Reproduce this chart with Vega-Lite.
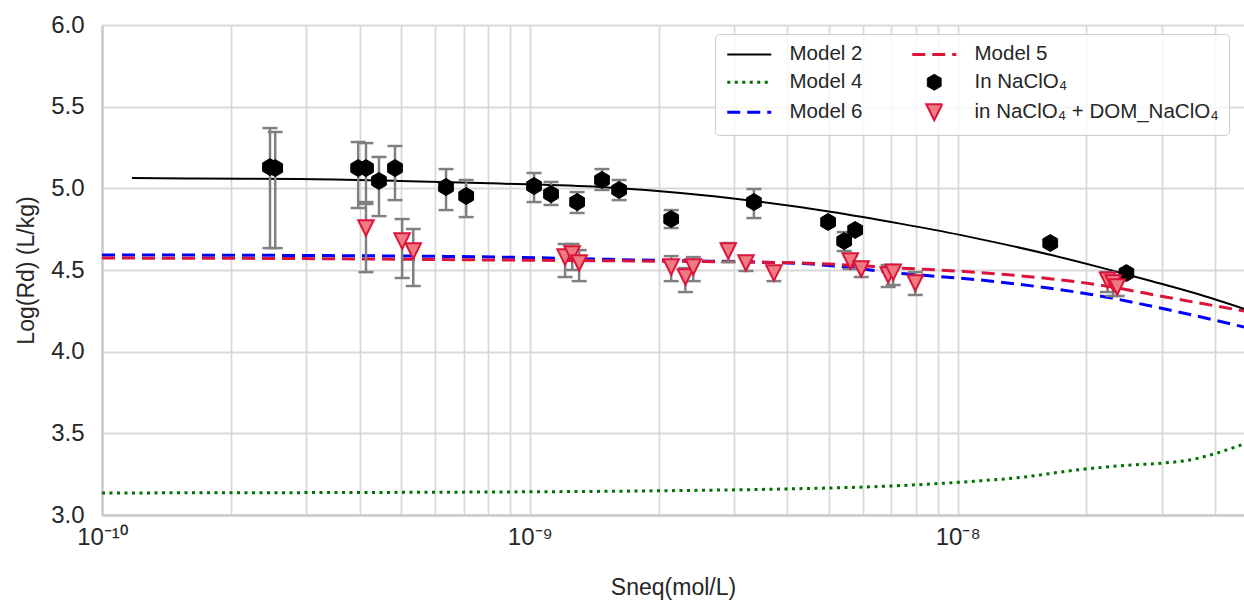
{
  "$schema": "https://vega.github.io/schema/vega-lite/v6.json",
  "width": 1142,
  "height": 490,
  "autosize": {"type": "none"},
  "padding": {"left": 102, "top": 25, "right": 0, "bottom": 89},
  "background": "white",
  "config": {
    "view": {"stroke": null},
    "font": "Liberation Sans",
    "axis": {
      "gridColor": "#d9d9d9",
      "gridWidth": 1.8,
      "domainColor": "#cccccc",
      "domainWidth": 2.5,
      "ticks": false,
      "labelFont": "Liberation Sans",
      "labelFontSize": 24,
      "labelColor": "#262626",
      "titleFont": "Liberation Sans",
      "titleFontSize": 23,
      "titleFontWeight": "normal",
      "titleColor": "#262626"
    }
  },
  "datasets": {
    "lines": [
      {"s": "Model 2", "x": 1.175e-10, "y": 5.063},
      {"s": "Model 2", "x": 1.69e-10, "y": 5.060},
      {"s": "Model 2", "x": 2.9e-10, "y": 5.057},
      {"s": "Model 2", "x": 4.97e-10, "y": 5.045},
      {"s": "Model 2", "x": 8.52e-10, "y": 5.029},
      {"s": "Model 2", "x": 1.46e-9, "y": 5.008},
      {"s": "Model 2", "x": 2.25e-9, "y": 4.971},
      {"s": "Model 2", "x": 3.34e-9, "y": 4.922},
      {"s": "Model 2", "x": 5.04e-9, "y": 4.857},
      {"s": "Model 2", "x": 7.34e-9, "y": 4.784},
      {"s": "Model 2", "x": 1.013e-8, "y": 4.715},
      {"s": "Model 2", "x": 1.257e-8, "y": 4.663},
      {"s": "Model 2", "x": 1.646e-8, "y": 4.593},
      {"s": "Model 2", "x": 2.154e-8, "y": 4.516},
      {"s": "Model 2", "x": 2.818e-8, "y": 4.434},
      {"s": "Model 2", "x": 3.69e-8, "y": 4.348},
      {"s": "Model 2", "x": 4.67e-8, "y": 4.262},
      {"s": "Model 4", "x": 1e-10, "y": 3.135},
      {"s": "Model 4", "x": 1.003e-9, "y": 3.142},
      {"s": "Model 4", "x": 1.98e-9, "y": 3.148},
      {"s": "Model 4", "x": 4.04e-9, "y": 3.160},
      {"s": "Model 4", "x": 7.34e-9, "y": 3.180},
      {"s": "Model 4", "x": 1.0e-8, "y": 3.200},
      {"s": "Model 4", "x": 1.4e-8, "y": 3.230},
      {"s": "Model 4", "x": 1.96e-8, "y": 3.280},
      {"s": "Model 4", "x": 2.5e-8, "y": 3.305},
      {"s": "Model 4", "x": 3.0e-8, "y": 3.317},
      {"s": "Model 4", "x": 3.45e-8, "y": 3.335},
      {"s": "Model 4", "x": 4.67e-8, "y": 3.435},
      {"s": "Model 6", "x": 1e-10, "y": 4.592},
      {"s": "Model 6", "x": 2.9e-10, "y": 4.589},
      {"s": "Model 6", "x": 8.52e-10, "y": 4.579},
      {"s": "Model 6", "x": 1.81e-9, "y": 4.561},
      {"s": "Model 6", "x": 4.28e-9, "y": 4.540},
      {"s": "Model 6", "x": 7.34e-9, "y": 4.480},
      {"s": "Model 6", "x": 1.257e-8, "y": 4.426},
      {"s": "Model 6", "x": 2.15e-8, "y": 4.341},
      {"s": "Model 6", "x": 3.13e-8, "y": 4.255},
      {"s": "Model 6", "x": 4.67e-8, "y": 4.151},
      {"s": "Model 5", "x": 1e-10, "y": 4.573},
      {"s": "Model 5", "x": 2.9e-10, "y": 4.570},
      {"s": "Model 5", "x": 8.52e-10, "y": 4.561},
      {"s": "Model 5", "x": 1.81e-9, "y": 4.555},
      {"s": "Model 5", "x": 4.28e-9, "y": 4.543},
      {"s": "Model 5", "x": 7.34e-9, "y": 4.512},
      {"s": "Model 5", "x": 1.257e-8, "y": 4.475},
      {"s": "Model 5", "x": 2.15e-8, "y": 4.408},
      {"s": "Model 5", "x": 3.13e-8, "y": 4.330},
      {"s": "Model 5", "x": 4.67e-8, "y": 4.249}
    ],
    "pts": [
      {"s": "In NaClO₄", "x": 2.47e-10, "y": 5.130, "lo": 4.634, "hi": 5.369},
      {"s": "In NaClO₄", "x": 2.54e-10, "y": 5.124, "lo": 4.634, "hi": 5.345},
      {"s": "In NaClO₄", "x": 3.97e-10, "y": 5.124, "lo": 4.879, "hi": 5.284},
      {"s": "In NaClO₄", "x": 4.14e-10, "y": 5.124, "lo": 4.904, "hi": 5.277},
      {"s": "In NaClO₄", "x": 4.44e-10, "y": 5.045, "lo": 4.830, "hi": 5.192},
      {"s": "In NaClO₄", "x": 4.84e-10, "y": 5.124, "lo": 4.928, "hi": 5.259},
      {"s": "In NaClO₄", "x": 6.37e-10, "y": 5.008, "lo": 4.867, "hi": 5.118},
      {"s": "In NaClO₄", "x": 7.10e-10, "y": 4.953, "lo": 4.824, "hi": 5.051},
      {"s": "In NaClO₄", "x": 1.023e-9, "y": 5.014, "lo": 4.916, "hi": 5.094},
      {"s": "In NaClO₄", "x": 1.121e-9, "y": 4.965, "lo": 4.898, "hi": 5.039},
      {"s": "In NaClO₄", "x": 1.290e-9, "y": 4.916, "lo": 4.849, "hi": 4.977},
      {"s": "In NaClO₄", "x": 1.475e-9, "y": 5.051, "lo": 4.990, "hi": 5.118},
      {"s": "In NaClO₄", "x": 1.617e-9, "y": 4.990, "lo": 4.928, "hi": 5.051},
      {"s": "In NaClO₄", "x": 2.14e-9, "y": 4.812, "lo": 4.757, "hi": 4.867},
      {"s": "In NaClO₄", "x": 3.34e-9, "y": 4.916, "lo": 4.818, "hi": 4.996},
      {"s": "In NaClO₄", "x": 4.98e-9, "y": 4.794, "lo": 4.775, "hi": 4.815},
      {"s": "In NaClO₄", "x": 5.43e-9, "y": 4.677, "lo": 4.616, "hi": 4.732},
      {"s": "In NaClO₄", "x": 5.76e-9, "y": 4.745, "lo": 4.725, "hi": 4.765},
      {"s": "In NaClO₄", "x": 1.646e-8, "y": 4.665, "lo": 4.655, "hi": 4.675},
      {"s": "In NaClO₄", "x": 2.48e-8, "y": 4.481, "lo": 4.471, "hi": 4.491},
      {"s": "in NaClO₄ + DOM_NaClO₄", "x": 4.14e-10, "y": 4.757, "lo": 4.487, "hi": 4.916},
      {"s": "in NaClO₄ + DOM_NaClO₄", "x": 5.03e-10, "y": 4.677, "lo": 4.451, "hi": 4.812},
      {"s": "in NaClO₄ + DOM_NaClO₄", "x": 5.34e-10, "y": 4.616, "lo": 4.402, "hi": 4.751},
      {"s": "in NaClO₄ + DOM_NaClO₄", "x": 1.209e-9, "y": 4.579, "lo": 4.457, "hi": 4.659},
      {"s": "in NaClO₄ + DOM_NaClO₄", "x": 1.256e-9, "y": 4.598, "lo": 4.500, "hi": 4.659},
      {"s": "in NaClO₄ + DOM_NaClO₄", "x": 1.304e-9, "y": 4.543, "lo": 4.432, "hi": 4.622},
      {"s": "in NaClO₄ + DOM_NaClO₄", "x": 2.14e-9, "y": 4.518, "lo": 4.432, "hi": 4.585},
      {"s": "in NaClO₄ + DOM_NaClO₄", "x": 2.31e-9, "y": 4.457, "lo": 4.365, "hi": 4.512},
      {"s": "in NaClO₄ + DOM_NaClO₄", "x": 2.41e-9, "y": 4.518, "lo": 4.432, "hi": 4.579},
      {"s": "in NaClO₄ + DOM_NaClO₄", "x": 2.91e-9, "y": 4.616, "lo": 4.549, "hi": 4.665},
      {"s": "in NaClO₄ + DOM_NaClO₄", "x": 3.20e-9, "y": 4.543, "lo": 4.494, "hi": 4.585},
      {"s": "in NaClO₄ + DOM_NaClO₄", "x": 3.72e-9, "y": 4.481, "lo": 4.432, "hi": 4.524},
      {"s": "in NaClO₄ + DOM_NaClO₄", "x": 5.61e-9, "y": 4.555, "lo": 4.506, "hi": 4.585},
      {"s": "in NaClO₄ + DOM_NaClO₄", "x": 5.95e-9, "y": 4.506, "lo": 4.457, "hi": 4.549},
      {"s": "in NaClO₄ + DOM_NaClO₄", "x": 6.88e-9, "y": 4.469, "lo": 4.396, "hi": 4.530},
      {"s": "in NaClO₄ + DOM_NaClO₄", "x": 7.07e-9, "y": 4.487, "lo": 4.408, "hi": 4.530},
      {"s": "in NaClO₄ + DOM_NaClO₄", "x": 7.96e-9, "y": 4.420, "lo": 4.347, "hi": 4.487},
      {"s": "in NaClO₄ + DOM_NaClO₄", "x": 2.24e-8, "y": 4.438, "lo": 4.365, "hi": 4.487},
      {"s": "in NaClO₄ + DOM_NaClO₄", "x": 2.31e-8, "y": 4.420, "lo": 4.341, "hi": 4.469},
      {"s": "in NaClO₄ + DOM_NaClO₄", "x": 2.36e-8, "y": 4.396, "lo": 4.341, "hi": 4.451}
    ]
  },
  "layer": [
    {
      "data": {"name": "lines"},
      "transform": [{"filter": "datum.s !== 'Model 2'"}],
      "mark": {"type": "line", "strokeWidth": 3, "interpolate": "monotone", "clip": true},
      "encoding": {
        "x": {
          "field": "x", "type": "quantitative",
          "scale": {"type": "log", "domain": [1e-10, 4.67e-8], "nice": false},
          "axis": {
            "title": "Sneq(mol/L)",
            "values": [1e-10, 2e-10, 3e-10, 4e-10, 5e-10, 6e-10, 7e-10, 8e-10, 9e-10, 1e-9, 2e-9, 3e-9, 4e-9, 5e-9, 6e-9, 7e-9, 8e-9, 9e-9, 1e-8, 2e-8, 3e-8, 4e-8],
            "labelExpr": "datum.value === 1e-10 ? '10⁻¹⁰' : datum.value === 1e-9 ? '10⁻⁹' : datum.value === 1e-8 ? '10⁻⁸' : ''",
            "labelFlush": false,
            "labelOverlap": false,
            "labelPadding": 10,
            "titlePadding": 27
          }
        },
        "y": {
          "field": "y", "type": "quantitative",
          "scale": {"domain": [3, 6], "nice": false, "zero": false},
          "axis": {
            "title": "Log(Rd) (L/kg)",
            "values": [3, 3.5, 4, 4.5, 5, 5.5, 6],
            "format": ".1f",
            "labelPadding": 18,
            "titlePadding": 12
          }
        },
        "color": {
          "field": "s", "type": "nominal",
          "scale": {
            "domain": ["Model 2", "Model 4", "Model 6", "Model 5", "In NaClO₄", "in NaClO₄ + DOM_NaClO₄"],
            "range": ["#000000", "#007000", "#0000ff", "#dc143c", "#000000", "#dc143c"]
          },
          "legend": {
            "title": null,
            "orient": "none",
            "legendX": 613,
            "legendY": 9,
            "columns": 2,
            "columnPadding": 43,
            "rowPadding": 7,
            "padding": 10,
            "symbolSize": 256,
            "symbolStrokeWidth": 2.5,
            "labelOffset": 44,
            "labelFont": "Liberation Sans",
            "labelFontSize": 20.5,
            "labelColor": "#262626",
            "labelLimit": 400,
            "fillColor": "rgba(255,255,255,0.8)",
            "strokeColor": "#cccccc",
            "cornerRadius": 4,
            "encode": {
              "symbols": {
                "update": {
                  "shape": {"signal": "datum.value === 'In NaClO₄' ? 'M1.75,-1L2.616,-0.5L2.616,0.5L1.75,1L0.884,0.5L0.884,-0.5Z' : datum.value === 'in NaClO₄ + DOM_NaClO₄' ? 'M0.75,-1L2.75,-1L1.75,1Z' : 'M-1,0L4.5,0'"},
                  "size": {"value": 256},
                  "fill": {"signal": "datum.value === 'In NaClO₄' ? '#000000' : datum.value === 'in NaClO₄ + DOM_NaClO₄' ? '#ef7b82' : 'transparent'"},
                  "stroke": {"signal": "datum.value === 'Model 2' || datum.value === 'In NaClO₄' ? '#000000' : datum.value === 'Model 4' ? '#007000' : datum.value === 'Model 6' ? '#0000ff' : '#dc143c'"},
                  "strokeDash": {"signal": "datum.value === 'Model 4' ? [3, 4.5] : (datum.value === 'Model 5' || datum.value === 'Model 6') ? [13, 7] : []"},
                  "strokeWidth": {"signal": "datum.value === 'Model 2' ? 2 : datum.value === 'In NaClO₄' ? 1 : datum.value === 'in NaClO₄ + DOM_NaClO₄' ? 2 : 3"},
                  "opacity": {"value": 1}
                }
              }
            }
          }
        },
        "strokeDash": {
          "field": "s", "type": "nominal",
          "scale": {
            "domain": ["Model 2", "Model 4", "Model 6", "Model 5", "In NaClO₄", "in NaClO₄ + DOM_NaClO₄"],
            "range": [[1, 0], [3, 4.5], [13, 7], [13, 7], [1, 0], [1, 0]]
          },
          "legend": null
        }
      }
    },
    {
      "data": {"name": "lines"},
      "transform": [{"filter": "datum.s === 'Model 2'"}],
      "mark": {"type": "line", "strokeWidth": 2, "color": "#000000", "interpolate": "monotone", "clip": true},
      "encoding": {
        "x": {"field": "x", "type": "quantitative"},
        "y": {"field": "y", "type": "quantitative"}
      }
    },
    {
      "data": {"name": "pts"},
      "mark": {"type": "rule", "color": "#808080", "strokeWidth": 2.5},
      "encoding": {
        "x": {"field": "x", "type": "quantitative"},
        "y": {"field": "lo", "type": "quantitative"},
        "y2": {"field": "hi"}
      }
    },
    {
      "data": {"name": "pts"},
      "mark": {"type": "tick", "orient": "horizontal", "color": "#808080", "size": 15, "thickness": 2.5, "opacity": 1},
      "encoding": {
        "x": {"field": "x", "type": "quantitative"},
        "y": {"field": "lo", "type": "quantitative"}
      }
    },
    {
      "data": {"name": "pts"},
      "mark": {"type": "tick", "orient": "horizontal", "color": "#808080", "size": 15, "thickness": 2.5, "opacity": 1},
      "encoding": {
        "x": {"field": "x", "type": "quantitative"},
        "y": {"field": "hi", "type": "quantitative"}
      }
    },
    {
      "data": {"name": "pts"},
      "transform": [{"filter": "datum.s === 'In NaClO₄'"}],
      "mark": {"type": "point", "shape": "M0,-1L0.866,-0.5L0.866,0.5L0,1L-0.866,0.5L-0.866,-0.5Z", "size": 289, "filled": true, "fill": "#000000", "stroke": "#000000", "strokeWidth": 1, "opacity": 1},
      "encoding": {
        "x": {"field": "x", "type": "quantitative"},
        "y": {"field": "y", "type": "quantitative"}
      }
    },
    {
      "data": {"name": "pts"},
      "transform": [{"filter": "datum.s === 'in NaClO₄ + DOM_NaClO₄'"}],
      "mark": {"type": "point", "shape": "M-1,-1L1,-1L0,1Z", "size": 240, "filled": true, "fill": "#ef7b82", "stroke": "#dc143c", "strokeWidth": 2, "opacity": 1},
      "encoding": {
        "x": {"field": "x", "type": "quantitative"},
        "y": {"field": "y", "type": "quantitative"}
      }
    }
  ]
}
